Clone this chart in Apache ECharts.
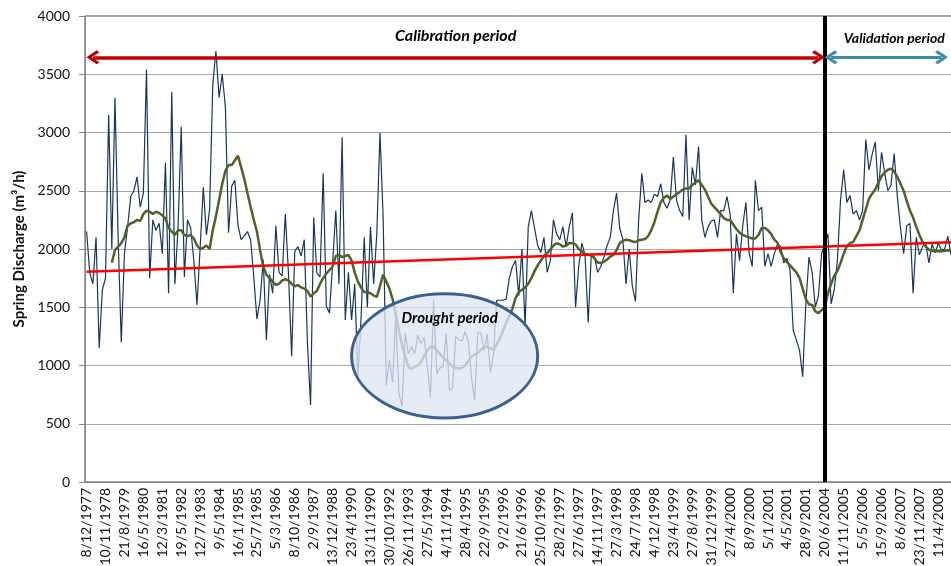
<!DOCTYPE html>
<html>
<head>
<meta charset="utf-8">
<title>Spring discharge</title>
<script src="https://cdn.jsdelivr.net/npm/echarts@6.0.0/dist/echarts.min.js"></script>
<style>
    html, body { margin: 0; padding: 0; background: #ffffff; }
    #discharge-chart { width: 951px; height: 566px; }
</style>
</head>
<body>
<div id="discharge-chart"></div>
<script>
// dates written under every 6th point of the series
var tickLabels = ['8/12/1977', '10/11/1978', '21/8/1979', '16/5/1980', '12/3/1981', '19/5/1982',
    '12/7/1983', '9/5/1984', '16/1/1985', '25/7/1985', '5/3/1986', '8/10/1986', '2/9/1987',
    '13/12/1988', '23/4/1990', '13/11/1990', '30/10/1992', '26/11/1993', '27/5/1994', '4/11/1994',
    '28/4/1995', '22/9/1995', '9/2/1996', '21/6/1996', '25/10/1996', '28/2/1997', '27/6/1997',
    '14/11/1997', '27/3/1998', '24/7/1998', '4/12/1998', '23/4/1999', '27/8/1999', '31/12/1999',
    '27/4/2000', '8/9/2000', '5/1/2001', '4/5/2001', '28/9/2001', '20/6/2004', '11/11/2005',
    '5/5/2006', '15/9/2006', '8/6/2007', '23/11/2007', '11/4/2008'];
var pointsPerLabel = 6;

// spring discharge (m3/h), one value per point
var discharge = [
    2150, 1800, 1700, 2100, 1150, 1650, 1750, 3150, 2000, 3300, 2100, 1200,
    1960, 2190, 2450, 2500, 2620, 2360, 2480, 3540, 1750, 2250, 2160, 2220,
    1960, 2740, 1620, 3350, 1700, 2190, 3050, 1760, 2250, 2180, 1900, 1520,
    2010, 2530, 2120, 2340, 3410, 3700, 3300, 3500, 3220, 2140, 2540, 2590,
    2200, 2080, 2110, 2150, 2080, 1760, 1400, 1560, 1910, 1220, 1780, 1620,
    2200, 1800, 1770, 2300, 1790, 1080, 1980, 2020, 1940, 2080, 1200, 661,
    2270, 1790, 1760, 2650, 1510, 1450, 1880, 2330, 1700, 2960, 1390, 1800,
    1390, 1700, 904, 1400, 2100, 1500, 2190, 1700, 2130, 3000, 2280, 830,
    1050, 850, 1420, 760, 650, 1280, 1100, 1160, 1100, 1260, 1190, 1240,
    1000, 725, 1560, 930, 980, 990, 1280, 790, 800, 1250, 1220, 1210,
    1290, 1210, 900, 700, 1280, 1280, 1130, 1270, 940, 1100, 1560, 1560,
    1560, 1570, 1750, 1850, 1900, 1600, 2000, 1330, 2190, 2330, 2180, 2030,
    1970, 2100, 1800, 1900, 2250, 2130, 2080, 2190, 2020, 2190, 2310, 1500,
    1850, 2050, 1950, 1370, 1960, 1930, 1800, 1850, 1930, 2030, 2100, 2330,
    2480, 2180, 2080, 1700, 2000, 1680, 1550, 2250, 2650, 2400, 2420, 2400,
    2470, 2450, 2560, 2400, 2350, 2420, 2790, 2420, 2330, 2280, 2980, 2250,
    2700, 2550, 2880, 2250, 2100, 2190, 2240, 2250, 2100, 2330, 2330, 2450,
    2300, 1620, 2130, 1900, 2200, 2400, 1970, 1850, 2590, 2330, 2360, 1850,
    1960, 1850, 1960, 2040, 2020, 1880, 1920, 1820, 1300, 1220, 1130, 904,
    1530, 1930, 1800, 1500, 1600, 1960, 2050, 2130, 1530, 1650, 1900, 2420,
    2680, 2400, 2460, 2300, 2330, 2250, 2330, 2940, 2680, 2810, 2920, 2500,
    2830, 2650, 2500, 2550, 2820, 2450, 2180, 1960, 2200, 2220, 1620, 2100,
    1950, 2020, 2050, 1880, 2040, 1970, 2050, 1990, 2000, 2110, 1950, 2080,
    2000, 2050
];

// moving average (green line), starts after the first few points
var movingAverage = [
    null, null, null, null, null, null, null, null, 1882, 1990, 2020, 2050,
    2100, 2200, 2220, 2230, 2250, 2240, 2300, 2330, 2320, 2300, 2320, 2310,
    2290, 2260, 2180, 2150, 2120, 2160, 2160, 2120, 2110, 2120, 2090, 2030,
    2000, 2010, 2030, 2000, 2160, 2280, 2420, 2560, 2670, 2720, 2720, 2760,
    2800, 2700, 2600, 2480, 2360, 2250, 2150, 1990, 1850, 1780, 1750, 1720,
    1690, 1700, 1730, 1740, 1730, 1700, 1680, 1690, 1670, 1660, 1640, 1590,
    1620, 1640, 1700, 1750, 1790, 1820, 1850, 1940, 1950, 1930, 1940, 1950,
    1900, 1800, 1720, 1670, 1630, 1630, 1620, 1600, 1590, 1680, 1780, 1720,
    1660, 1570, 1440, 1300, 1180, 1080, 990, 970, 990, 1000, 1030, 1080,
    1130, 1160, 1160, 1130, 1100, 1070, 1045, 1020, 995, 980, 975, 980,
    1000, 1040, 1075, 1095, 1110, 1135, 1160, 1160, 1150, 1130, 1180, 1230,
    1300, 1370, 1420, 1490, 1580, 1630, 1650, 1670, 1700, 1750, 1810, 1860,
    1900, 1940, 1965, 1995, 2030, 2050, 2040, 2020, 2030, 2050, 2050, 2040,
    2000, 1980, 1955, 1950, 1945, 1920, 1885, 1880, 1890, 1910, 1935, 1950,
    1990, 2050, 2070, 2080, 2075, 2065, 2060, 2075, 2080, 2085, 2110, 2160,
    2230, 2320, 2400, 2440, 2460, 2430, 2450, 2470, 2490, 2510, 2520, 2520,
    2550, 2570, 2590, 2550, 2510, 2450, 2390, 2360, 2330, 2300, 2265, 2250,
    2250, 2210, 2170, 2140, 2120, 2110, 2100, 2090, 2090, 2120, 2180, 2180,
    2160, 2130, 2080, 2055, 1975, 1920, 1890, 1860, 1830, 1800, 1750, 1660,
    1570, 1525, 1520, 1465, 1450, 1475, 1500, 1620, 1700, 1770, 1810, 1880,
    1960, 2025, 2050, 2060, 2110, 2160, 2250, 2340, 2430, 2475, 2510, 2570,
    2625, 2655, 2680, 2690, 2665, 2620, 2560, 2500, 2410, 2330, 2270, 2190,
    2120, 2060, 2020, 1995, 1985, 1980, 1980, 1980, 1985, 1990, 1985, 1985,
    1985, 1990
];

// linear trend, value at the first and at the last point
var trendStart = 1805;
var trendEnd = 2060;

// periods (point indexes) and arrow height
var validationStart = 234;
var arrowLevel = 3645;
var calibrationArrow = [2, 232];
var validationArrow = [236, 271];

// drought ellipse box (point indexes / discharge)
var droughtFrom = 84;
var droughtTo = 143;
var droughtLow = 550;
var droughtHigh = 1615;

var fontFamily = 'Lato, "Open Sans", sans-serif';
var chevron = 'path://M10,0 L20,12 L17,15 L10,6 L3,15 L0,12 Z';

function createDischargeChart(element) {
    var chart = echarts.init(element, null, {
        renderer: 'canvas'
    });

    var categories = discharge.map(function(value, i) {
        return String(i);
    });

    // only the two ends of the trend are known, the library draws the line between them
    var trend = discharge.map(function(value, i) {
        if (i === 0) {
            return trendStart;
        }
        if (i === discharge.length - 1) {
            return trendEnd;
        }
        return null;
    });

    var chartOptions = {
        animation: false,
        textStyle: {
            fontFamily: fontFamily,
        },
        grid: {
            left: 85,
            top: 16,
            bottom: 84,
            width: 877,
            outerBoundsMode: 'none',
            show: true,
            borderColor: '#4a4a4a',
            borderWidth: 1,
            backgroundColor: 'transparent',
        },
        xAxis: {
            type: 'category',
            data: categories,
            boundaryGap: true,
            axisLine: {
                lineStyle: { color: '#868686', width: 1 },
            },
            axisTick: {
                interval: 1,
                length: 5,
                lineStyle: { color: '#868686' },
            },
            axisLabel: {
                interval: pointsPerLabel - 1,
                rotate: 90,
                margin: 6,
                fontSize: 14,
                color: '#111111',
                formatter: function(value, index) {
                    return tickLabels[index / pointsPerLabel] || '';
                },
            },
            splitLine: { show: false },
        },
        yAxis: {
            type: 'value',
            min: 0,
            max: 4000,
            interval: 500,
            name: 'Spring Discharge (m\u00b3/h)',
            nameLocation: 'middle',
            nameGap: 55,
            nameTextStyle: {
                fontSize: 15,
                fontWeight: 'bold',
                color: '#111111',
            },
            axisLine: {
                show: true,
                lineStyle: { color: '#868686', width: 1 },
            },
            axisTick: {
                show: true,
                length: 6,
                lineStyle: { color: '#868686' },
            },
            axisLabel: {
                margin: 15,
                fontSize: 14,
                color: '#111111',
                formatter: function(value) {
                    return String(value);
                },
            },
            splitLine: {
                lineStyle: { color: '#a8a8a8', width: 1.2 },
            },
        },
        series: [
            {
                name: 'Discharge',
                type: 'line',
                data: discharge,
                symbol: 'none',
                lineStyle: { color: '#17375e', width: 1.2 },
                z: 2,
            },
            {
                name: 'Moving average',
                type: 'line',
                data: movingAverage,
                symbol: 'none',
                lineStyle: { color: '#4f6228', width: 2.5 },
                z: 3,
            },
            {
                name: 'Trend',
                type: 'line',
                data: trend,
                connectNulls: true,
                symbol: 'none',
                lineStyle: { color: '#ff0000', width: 2.5 },
                z: 4,
                markLine: {
                    silent: true,
                    symbol: ['none', 'none'],
                    data: [
                        {
                            xAxis: validationStart,
                            lineStyle: { color: '#000000', width: 4, type: 'solid' },
                            label: { show: false },
                        },
                        [
                            {
                                coord: [calibrationArrow[0], arrowLevel],
                                symbol: chevron,
                                symbolSize: [14, 13],
                                lineStyle: { color: '#c00000', width: 3.5, type: 'solid' },
                                label: {
                                    show: true,
                                    position: 'insideMiddleTop',
                                    distance: 14,
                                    formatter: 'Calibration period',
                                    fontSize: 16,
                                    fontWeight: 'bold',
                                    fontStyle: 'italic',
                                    color: '#000000',
                                },
                            },
                            {
                                coord: [calibrationArrow[1], arrowLevel],
                                symbol: chevron,
                                symbolSize: [14, 13],
                            },
                        ],
                        [
                            {
                                coord: [validationArrow[0], arrowLevel],
                                symbol: chevron,
                                symbolSize: [14, 13],
                                lineStyle: { color: '#3a8ea8', width: 3, type: 'solid' },
                                label: {
                                    show: true,
                                    position: 'insideMiddleTop',
                                    distance: 12,
                                    offset: [8, 0],
                                    formatter: 'Validation period',
                                    fontSize: 14,
                                    fontWeight: 'bold',
                                    fontStyle: 'italic',
                                    color: '#000000',
                                },
                            },
                            {
                                coord: [validationArrow[1], arrowLevel],
                                symbol: chevron,
                                symbolSize: [14, 13],
                            },
                        ],
                    ],
                },
            },
        ],
    };

    chart.setOption(chartOptions);

    // drought ellipse, placed from the data box
    var topLeft = chart.convertToPixel({ gridIndex: 0 }, [droughtFrom, droughtHigh]);
    var bottomRight = chart.convertToPixel({ gridIndex: 0 }, [droughtTo, droughtLow]);
    var cx = (topLeft[0] + bottomRight[0]) / 2;
    var cy = (topLeft[1] + bottomRight[1]) / 2;
    var rx = (bottomRight[0] - topLeft[0]) / 2;
    var ry = (bottomRight[1] - topLeft[1]) / 2;

    chart.setOption({
        graphic: [
            {
                type: 'ellipse',
                z: 100,
                shape: { cx: cx, cy: cy, rx: rx, ry: ry },
                style: {
                    fill: 'rgba(222, 231, 243, 0.78)',
                    stroke: '#3b5f8f',
                    lineWidth: 3,
                },
            },
            {
                type: 'text',
                z: 101,
                x: cx + 5,
                y: topLeft[1] + 24,
                style: {
                    text: 'Drought period',
                    align: 'center',
                    verticalAlign: 'middle',
                    fontFamily: fontFamily,
                    fontSize: 15,
                    fontWeight: 'bold',
                    fontStyle: 'italic',
                    fill: '#000000',
                },
            },
        ],
    });

    return chart;
}

createDischargeChart(document.getElementById('discharge-chart'));
</script>
</body>
</html>
